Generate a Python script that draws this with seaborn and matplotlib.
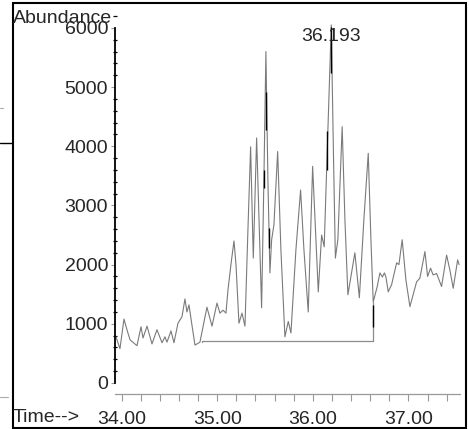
import numpy as np
import matplotlib
matplotlib.use('Agg')
import matplotlib.pyplot as plt
import seaborn as sns
from matplotlib.ticker import MultipleLocator, FixedLocator
from matplotlib.lines import Line2D
from matplotlib.patches import Rectangle

sns.set_style('ticks')
plt.rcParams['font.family'] = ['Liberation Sans', 'DejaVu Sans']

# retention time (min) and abundance of the TIC trace
times = [33.940, 33.982, 34.024, 34.055, 34.087, 34.160, 34.202, 34.223, 34.265, 34.317,
         34.369, 34.422, 34.453, 34.474, 34.516, 34.547, 34.589, 34.631, 34.662, 34.683,
         34.704, 34.735, 34.767, 34.819, 34.892, 34.945, 34.997, 35.028, 35.060, 35.091,
         35.112, 35.143, 35.175, 35.196, 35.227, 35.259, 35.290, 35.321, 35.349, 35.377,
         35.412, 35.464, 35.488, 35.509, 35.530, 35.551, 35.569, 35.593, 35.632, 35.666,
         35.708, 35.743, 35.771, 35.823, 35.872, 35.907, 35.952, 35.998, 36.057, 36.092,
         36.119, 36.151, 36.193, 36.215, 36.236, 36.262, 36.307, 36.336, 36.367, 36.440,
         36.487, 36.534, 36.580, 36.608, 36.632, 36.674, 36.702, 36.728, 36.749, 36.765,
         36.789, 36.824, 36.877, 36.901, 36.935, 36.974, 37.016, 37.086, 37.120, 37.173,
         37.201, 37.232, 37.259, 37.295, 37.347, 37.400, 37.434, 37.469, 37.515, 37.531]
abundance = [780, 580, 1080, 900, 730, 630, 950, 760, 960, 660,
             900, 680, 780, 690, 880, 680, 1010, 1120, 1420, 1200,
             1320, 980, 640, 690, 1280, 960, 1350, 1180, 1230, 1180,
             1570, 2000, 2400, 2000, 1010, 1180, 960, 2590, 3990, 2110,
             4140, 1270, 3430, 5600, 3430, 1860, 2420, 2670, 3910, 2250,
             780, 1040, 845, 2250, 3260, 2250, 1200, 3660, 1540, 2500,
             2300, 3940, 6050, 3940, 2110, 2420, 4330, 2750, 1490, 2200,
             1440, 2755, 3880, 2417, 1370, 1630, 1860, 1790, 1860, 1790,
             1540, 1660, 2030, 2000, 2420, 1740, 1290, 1710, 1770, 2220,
             1800, 1940, 1825, 1850, 1630, 2160, 1910, 1600, 2080, 2000]

# integration baseline
base_start, base_end, base_level = 34.837, 36.632, 710
# short dark integration marks: time, low, high
mark_t = [35.492, 35.509, 35.541, 36.151, 36.186, 36.626]
mark_lo = [3300, 4280, 2280, 3600, 5240, 950]
mark_hi = [3600, 4920, 2620, 4260, 6020, 1320]

peak_label = '36.193'
peak_t, peak_y = 36.193, 5850

fig = plt.figure(figsize=(4.69, 4.29), dpi=100)
ax = fig.add_axes([115 / 469, (429 - 394) / 429, (460 - 115) / 469, (394 - 16) / 429])

sns.lineplot(x=times, y=abundance, ax=ax, color='#7a7a7a', lw=0.8, estimator=None)
ax.plot([base_start, base_start, base_end, base_end],
        [abundance[23], base_level, base_level, 1370], color='#8c8c8c', lw=0.9)
ax.vlines(mark_t, mark_lo, mark_hi, color='black', lw=1.0)

ax.text(peak_t, peak_y, peak_label, ha='center', va='center', fontsize=14)

ax.set_xlim(33.93, 37.54)
ax.set_ylim(-186, 6200)
ax.set_xlabel('')
ax.set_ylabel('')

ax.spines['top'].set_visible(False)
ax.spines['right'].set_visible(False)
ax.spines['left'].set_bounds(0, 6000)
ax.spines['left'].set_color('black')
ax.spines['left'].set_linewidth(1.3)
ax.spines['bottom'].set_color('#999999')
ax.spines['bottom'].set_linewidth(0.9)

ax.yaxis.set_major_locator(FixedLocator([0, 1000, 2000, 3000, 4000, 5000, 6000]))
ax.yaxis.set_minor_locator(MultipleLocator(200))
ax.xaxis.set_major_locator(FixedLocator([34, 35, 36, 37]))
ax.xaxis.set_minor_locator(MultipleLocator(0.2))
ax.set_xticklabels(['34.00', '35.00', '36.00', '37.00'])
ax.tick_params(axis='y', which='major', length=3, width=0.8, color='#999999',
               pad=2, labelsize=14, direction='out')
ax.tick_params(axis='y', which='minor', length=3, width=0.9, color='black', direction='inout')
ax.tick_params(axis='x', which='both', length=5, width=0.8, color='#999999',
               pad=7, labelsize=14, direction='out')

fig.text(13 / 469, 1 - 23.3 / 429, 'Abundance', fontsize=14, va='baseline', ha='left')
fig.text(13 / 469, (429 - 418) / 429, 'Time-->', fontsize=14, va='center', ha='left')

# page frame around the chart
fig.add_artist(Rectangle((12.5 / 469, 1 / 429), (465.5 - 12.5) / 469, (428 - 3) / 429,
                         transform=fig.transFigure, fill=False, ec='black', lw=1.5))
fig.add_artist(Line2D([0, 12 / 469], [1 - 143 / 429] * 2, transform=fig.transFigure,
                      color='black', lw=1))
fig.add_artist(Line2D([0, 3 / 469], [1 - 108 / 429] * 2, transform=fig.transFigure,
                      color='#aaaaaa', lw=0.8))
fig.add_artist(Line2D([0, 8 / 469], [1 - 397 / 429] * 2, transform=fig.transFigure,
                      color='#aaaaaa', lw=0.8))

fig.savefig('out.png', dpi=100)
